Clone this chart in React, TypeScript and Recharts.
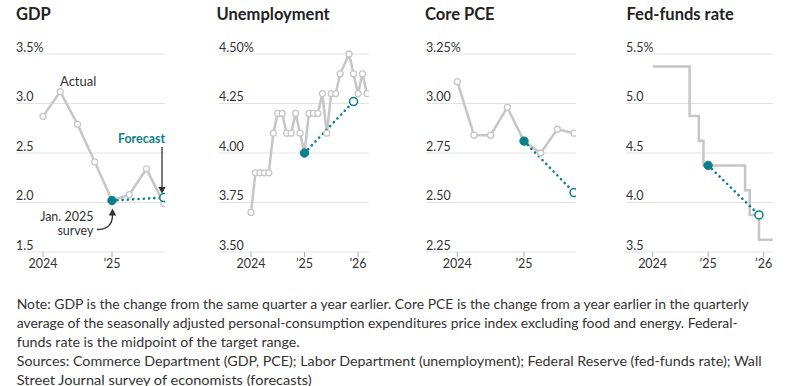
import React from 'react';
import { LineChart, Line, XAxis, YAxis, ReferenceLine } from 'recharts';

// ---------- data ----------
const quarterLabels = ['2024-Q1', '2024-Q2', '2024-Q3', '2024-Q4', '2025-Q1', '2025-Q2', '2025-Q3', '2025-Q4'];
const gdpActual = [2.87, 3.12, 2.79, 2.41, 2.02, 2.08, 2.34, 1.99];
const gdpForecastQuarters = ['2025-Q1', '2025-Q4'];
const gdpForecast = [2.02, 2.05];

const unempMonths = [
  '2024-01', '2024-02', '2024-03', '2024-04', '2024-05', '2024-06', '2024-07', '2024-08', '2024-09', '2024-10', '2024-11', '2024-12',
  '2025-01', '2025-02', '2025-03', '2025-04', '2025-05', '2025-06', '2025-07', '2025-08', '2025-09', '2025-11', '2025-12',
  '2026-01', '2026-02', '2026-03',
];
const unempActual = [3.7, 3.9, 3.9, 3.9, 3.9, 4.1, 4.2, 4.2, 4.1, 4.1, 4.2, 4.1, 4.0, 4.2, 4.2, 4.2, 4.3, 4.1, 4.3, 4.3, 4.4, 4.5, 4.4, 4.3, 4.4, 4.3];
const unempForecastMonths = ['2025-01', '2025-12'];
const unempForecast = [4.0, 4.26];

const pceActual = [3.11, 2.84, 2.84, 2.98, 2.81, 2.75, 2.87, 2.85];
const pceForecastQuarters = ['2025-Q1', '2025-Q4'];
const pceForecast = [2.81, 2.55];

const fedChangeMonths = ['2024-01', '2024-09', '2024-11', '2024-12', '2025-09', '2025-10', '2025-12', '2026-03'];
const fedRate = [5.375, 4.875, 4.625, 4.375, 4.125, 3.875, 3.625, 3.625];
const fedForecastMonths = ['2025-01', '2025-12'];
const fedForecast = [4.375, 3.875];

const gdpTicks = [1.5, 2.0, 2.5, 3.0, 3.5];
const gdpTickLabels = ['1.5', '2.0', '2.5', '3.0', '3.5%'];
const unempTicks = [3.5, 3.75, 4.0, 4.25, 4.5];
const unempTickLabels = ['3.50', '3.75', '4.00', '4.25', '4.50%'];
const pceTicks = [2.25, 2.5, 2.75, 3.0, 3.25];
const pceTickLabels = ['2.25', '2.50', '2.75', '3.00', '3.25%'];
const fedTicks = [3.5, 4.0, 4.5, 5.0, 5.5];
const fedTickLabels = ['3.5', '4.0', '4.5', '5.0', '5.5%'];

const yearTicks2 = [2024, 2025];
const yearTicks3 = [2024, 2025, 2026];
const yearTickLabels: Record<number, string> = { 2024: '2024', 2025: '\u201925', 2026: '\u201926' };

const noteLines = [
  'Note: GDP is the change from the same quarter a year earlier. Core PCE is the change from a year earlier in the quarterly',
  'average of the seasonally adjusted personal-consumption expenditures price index excluding food and energy. Federal-',
  'funds rate is the midpoint of the target range.',
  'Sources: Commerce Department (GDP, PCE); Labor Department (unemployment); Federal Reserve (fed-funds rate); Wall',
  'Street Journal survey of economists (forecasts)',
];

// ---------- helpers ----------
const qx = (q: string) => {
  const [y, qq] = q.split('-Q');
  return Number(y) + (Number(qq) - 1) / 4;
};
const mx = (m: string) => {
  const [y, mm] = m.split('-');
  return Number(y) + (Number(mm) - 1) / 12;
};
const zip = (xs: number[], vs: number[]) => xs.map((x, i) => ({ x, v: vs[i] }));

const FONT = "Lato, 'Open Sans', sans-serif";
const TEAL = '#0b7f8a';
const GREY = '#c6c6c6';
const GRID = '#e3e3e3';
const TEXT = '#333';

type PanelProps = {
  left: number;
  width: number;
  ml: number;
  mr: number;
  domainX: [number, number];
  xTicks: number[];
  domainY: [number, number];
  yTicks: number[];
  yLabels: string[];
  actual: { x: number; v: number }[];
  forecast: { x: number; v: number }[];
  step?: boolean;
};

const ForecastDot = (props: any) => {
  const { cx, cy, index } = props;
  if (cx == null || cy == null) return <g key={`fd${index}`} />;
  return index === 0 ? (
    <circle key={`fd${index}`} cx={cx} cy={cy} r={4.2} fill={TEAL} stroke={TEAL} />
  ) : (
    <circle key={`fd${index}`} cx={cx} cy={cy} r={4} fill="#fff" stroke={TEAL} strokeWidth={1.5} />
  );
};

const Panel = (p: PanelProps) => {
  return (
    <div style={{ position: 'absolute', left: p.left, top: 0 }}>
      <LineChart width={p.width} height={285} margin={{ top: 54, right: p.mr, bottom: 3, left: p.ml }}>
        <XAxis
          type="number"
          dataKey="x"
          domain={p.domainX}
          ticks={p.xTicks}
          allowDataOverflow
          axisLine={false}
          tickLine={{ stroke: '#aaa' }}
          tickSize={5}
          height={30}
          tick={{ fontSize: 12.5, fill: TEXT, fontFamily: FONT }}
          tickFormatter={(v: number) => yearTickLabels[v]}
        />
        <YAxis type="number" dataKey="v" domain={p.domainY} ticks={p.yTicks} hide />
        {p.yTicks.map((t, i) => (
          <ReferenceLine
            key={`g${t}`}
            y={t}
            stroke={GRID}
            strokeWidth={1}
            label={(lp: any) => {
              const vb = lp.viewBox || {};
              return (
                <text x={vb.x} y={vb.y - 2.5} fontSize={12.5} fill={TEXT} fontFamily={FONT} textAnchor="start">
                  {p.yLabels[i]}
                </text>
              );
            }}
          />
        ))}
        <Line
          data={p.actual}
          dataKey="v"
          type={p.step ? 'stepAfter' : 'linear'}
          stroke={GREY}
          strokeWidth={2.5}
          dot={p.step ? false : { r: 3, fill: '#fff', stroke: GREY, strokeWidth: 1.3 }}
          isAnimationActive={false}
        />
        <Line
          data={p.forecast}
          dataKey="v"
          type="linear"
          stroke={TEAL}
          strokeWidth={2.6}
          strokeDasharray="0.1 5.2"
          strokeLinecap="round"
          dot={ForecastDot}
          isAnimationActive={false}
        />
      </LineChart>
    </div>
  );
};

export default function App() {
  const qxs = quarterLabels.map(qx);
  return (
    <div style={{ position: 'absolute', left: 0, top: 0, width: 785, height: 386, background: '#fff', overflow: 'hidden', fontFamily: FONT }}>
      <Panel
        left={0}
        width={196}
        ml={16}
        mr={31}
        domainX={[2023.6087, 2025.7681]}
        xTicks={yearTicks2}
        domainY={[1.5, 3.5]}
        yTicks={gdpTicks}
        yLabels={gdpTickLabels}
        actual={zip(qxs, gdpActual)}
        forecast={zip(gdpForecastQuarters.map(qx), gdpForecast)}
      />
      <Panel
        left={196}
        width={196}
        ml={23}
        mr={23}
        domainX={[2023.4019, 2026.2056]}
        xTicks={yearTicks3}
        domainY={[3.5, 4.5]}
        yTicks={unempTicks}
        yLabels={unempTickLabels}
        actual={zip(unempMonths.map(mx), unempActual)}
        forecast={zip(unempForecastMonths.map(mx), unempForecast)}
      />
      <Panel
        left={392}
        width={196}
        ml={34}
        mr={12}
        domainX={[2023.5307, 2025.7796]}
        xTicks={yearTicks2}
        domainY={[2.25, 3.25]}
        yTicks={pceTicks}
        yLabels={pceTickLabels}
        actual={zip(qxs, pceActual)}
        forecast={zip(pceForecastQuarters.map(qx), pceForecast)}
      />
      <Panel
        left={588}
        width={197}
        ml={38}
        mr={12}
        domainX={[2023.5198, 2026.17]}
        xTicks={yearTicks3}
        domainY={[3.5, 5.5]}
        yTicks={fedTicks}
        yLabels={fedTickLabels}
        actual={zip(fedChangeMonths.map(mx), fedRate)}
        forecast={zip(fedForecastMonths.map(mx), fedForecast)}
        step
      />
      <svg width={785} height={386} style={{ position: 'absolute', left: 0, top: 0, pointerEvents: 'none' }} fontFamily={FONT}>
        <g fontWeight={700} fontSize={16.5} fill="#222">
          <text x={16} y={19.5}>GDP</text>
          <text x={216.5} y={19.5}>Unemployment</text>
          <text x={425} y={19.5}>Core PCE</text>
          <text x={626.5} y={19.5}>Fed-funds rate</text>
        </g>
        <text x={60} y={86} fontSize={13} fill={TEXT}>Actual</text>
        <text x={118} y={143} fontSize={14} fontWeight={700} fill={TEAL} textLength={47} lengthAdjust="spacingAndGlyphs">Forecast</text>
        <line x1={162} y1={147} x2={162} y2={188} stroke="#333" strokeWidth={1.3} />
        <path d="M158.3,187 L165.7,187 L162,193.5 Z" fill="#333" />
        <text x={93.5} y={220.5} fontSize={12.5} fill={TEXT} textAnchor="end">Jan. 2025</text>
        <text x={93.5} y={234.5} fontSize={12.5} fill={TEXT} textAnchor="end">survey</text>
        <path d="M97,229.5 C106,229.5 112.5,226 112.5,215" fill="none" stroke="#333" strokeWidth={1.3} />
        <path d="M108.8,215.5 L116.2,215.5 L112.5,208.5 Z" fill="#333" />
        <g fontSize={14} fill={TEXT}>
          <text x={16.7} y={308.5} textLength={732} lengthAdjust="spacingAndGlyphs">{noteLines[0]}</text>
          <text x={16.7} y={327.5} textLength={721} lengthAdjust="spacingAndGlyphs">{noteLines[1]}</text>
          <text x={16.7} y={346.5} textLength={283} lengthAdjust="spacingAndGlyphs">{noteLines[2]}</text>
          <text x={16.7} y={365.5} textLength={745} lengthAdjust="spacingAndGlyphs">{noteLines[3]}</text>
          <text x={16.7} y={384.5} textLength={295} lengthAdjust="spacingAndGlyphs">{noteLines[4]}</text>
        </g>
      </svg>
    </div>
  );
}
